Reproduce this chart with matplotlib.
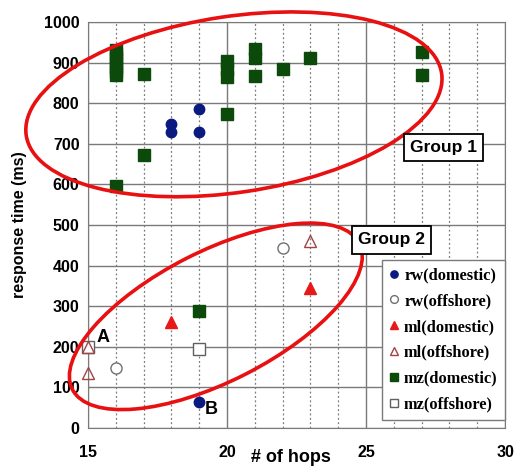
import matplotlib.pyplot as plt
from matplotlib.patches import Ellipse
import matplotlib.transforms as transforms

# Data: (hops, response time in ms)
rw_dom_x = [18, 18, 19, 19, 19]
rw_dom_y = [749, 729, 786, 729, 64]
rw_off_x = [22, 16]
rw_off_y = [443, 148]
ml_dom_x = [18, 23]
ml_dom_y = [261, 345]
ml_off_x = [23, 15, 15]
ml_off_y = [460, 200, 135]
mz_dom_x = [16, 16, 16, 16, 16, 16, 16, 16, 17, 17, 19,
            20, 20, 20, 20, 21, 21, 21, 22, 23, 27, 27]
mz_dom_y = [930, 920, 910, 900, 890, 880, 870, 595, 872, 673, 288,
            903, 885, 865, 773, 933, 910, 866, 884, 911, 926, 869]
mz_off_x = [19, 15]
mz_off_y = [195, 200]

fig = plt.figure(figsize=(5.17, 4.66), dpi=100)
ax = fig.add_axes([0.170, 0.0815, 0.807, 0.8715])

ax.set_xlim(15, 30)
ax.set_ylim(0, 1000)
ax.set_xticks([15, 20, 25, 30])
ax.set_xticks(range(15, 31), minor=True)
ax.set_yticks(range(0, 1001, 100))
ax.grid(True, which='major', color='#7a7a7a', lw=1.0, ls='-')
ax.grid(True, which='minor', axis='x', color='#7a7a7a', lw=0.9, ls=(0, (1.5, 2)))
ax.set_axisbelow(True)
for s in ax.spines.values():
    s.set_color('#7a7a7a')
ax.tick_params(which='both', length=0)
ax.tick_params(axis='x', pad=12)
ax.tick_params(axis='y', pad=6)
for lab in ax.get_xticklabels() + ax.get_yticklabels():
    lab.set_fontsize(11.5)
    lab.set_fontweight('bold')
    lab.set_fontfamily('Liberation Sans')

ax.set_ylabel('response time (ms)', fontsize=11.5, fontweight='bold',
              family='Liberation Sans', labelpad=12)
ax.text(22.3, -72, '# of hops', fontsize=13, fontweight='bold',
        family='Liberation Sans', ha='center', va='center')

# Scatter series
kw = dict(clip_on=False, ls='none')
ax.plot(rw_dom_x, rw_dom_y, 'o', ms=7.5, color='#0a1a80', mec='#0a1a80',
        label='rw(domestic)', zorder=4, **kw)
ax.plot(rw_off_x, rw_off_y, 'o', ms=8, mfc='white', mec='#707070',
        label='rw(offshore)', zorder=4, **kw)
ax.plot(ml_dom_x, ml_dom_y, '^', ms=8.5, color='#e81818',
        label='ml(domestic)', zorder=4, **kw)
ax.plot(mz_dom_x, mz_dom_y, 's', ms=8.5, color='#0b4a0b',
        label='mz(domestic)', zorder=3, **kw)
ax.plot(mz_off_x, mz_off_y, 's', ms=9, mfc='white', mec='#606060',
        label='mz(offshore)', zorder=4, **kw)
ax.plot(ml_off_x, ml_off_y, '^', ms=9, mfc='none', mec='#a04545',
        label='ml(offshore)', zorder=5, **kw)

# Group ellipses, sized in inches around a data-space centre
def group_ellipse(cx, cy, w, h, angle):
    tr = fig.dpi_scale_trans + transforms.ScaledTranslation(cx, cy, ax.transData)
    e = Ellipse((0, 0), w, h, angle=angle, transform=tr, fill=False,
                ec='#e81010', lw=2.6, clip_on=False, zorder=6)
    ax.add_patch(e)

group_ellipse(20.25, 797, 4.20, 1.76, 8.5)
group_ellipse(19.6, 275, 3.22, 1.30, 27)

box = dict(boxstyle='square,pad=0.35', fc='white', ec='black', lw=1.3)
ax.text(27.8, 690, 'Group 1', fontsize=12.5, fontweight='bold',
        family='Liberation Sans', ha='center', va='center', bbox=box, zorder=7)
ax.text(25.93, 463, 'Group 2', fontsize=12.5, fontweight='bold',
        family='Liberation Sans', ha='center', va='center', bbox=box, zorder=7)

ax.text(15.3, 203, 'A', fontsize=13, fontweight='bold',
        family='Liberation Sans', ha='left', va='bottom', zorder=7)
ax.text(19.45, 45, 'B', fontsize=13, fontweight='bold',
        family='Liberation Sans', ha='center', va='center', zorder=7)

handles, labels = ax.get_legend_handles_labels()
order = ['rw(domestic)', 'rw(offshore)', 'ml(domestic)', 'ml(offshore)',
         'mz(domestic)', 'mz(offshore)']
hl = dict(zip(labels, handles))
leg = ax.legend([hl[k] for k in order], order, loc='lower right',
                bbox_to_anchor=(1.0, 0.02), borderaxespad=0, fancybox=False,
                framealpha=1, edgecolor='#7a7a7a', markerscale=0.7,
                handlelength=0.6, handletextpad=0.3, labelspacing=0.6,
                borderpad=0.45,
                prop={'family': 'Liberation Serif', 'weight': 'bold', 'size': 11.8})
leg.set_zorder(8)

fig.savefig('out.png', dpi=100)
